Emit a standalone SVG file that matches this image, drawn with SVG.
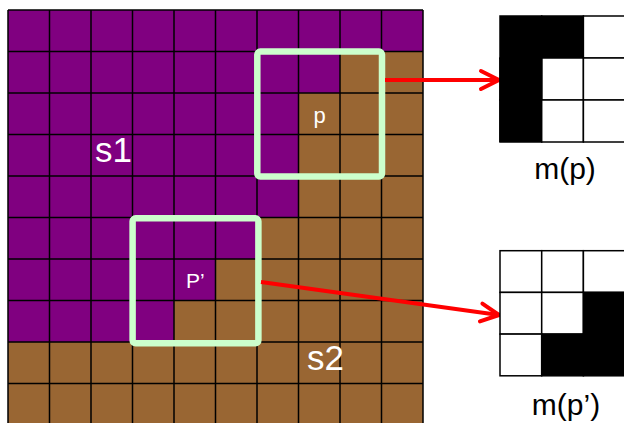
<svg xmlns="http://www.w3.org/2000/svg" width="624" height="423" viewBox="0 0 624 423">
  <defs>
    <style>
      .lbl { font-family: "Liberation Sans", Arial, sans-serif; fill: #ffffff; }
      .cap { font-family: "Liberation Sans", Arial, sans-serif; fill: #000000; font-size: 30px; text-anchor: middle; }
      .grid { fill: none; stroke: #000000; stroke-width: 1.5; }
      .win { fill: none; stroke: #CCFFCC; stroke-width: 6.5; }
      .conn { fill: none; stroke: #FF0000; stroke-width: 4; }
      .cell { stroke: #000000; stroke-width: 1.5; }
    </style>
    <marker id="chev" markerUnits="userSpaceOnUse" viewBox="-22 -12 26 24" refX="0" refY="0" markerWidth="26" markerHeight="24" orient="auto">
      <path d="M-18,-9 L0,0 L-18,9" fill="none" stroke="#FF0000" stroke-width="4" stroke-linecap="round" stroke-linejoin="round"/>
    </marker>
  </defs>
  <rect width="624" height="423" fill="#ffffff"/>

  <g id="image-grid">
    <rect x="8" y="10" width="415" height="415" fill="#996633"/>
    <polygon points="8,10 423,10 423,51.5 340,51.5 340,93 298.5,93 298.5,217.5 257,217.5 257,259 215.5,259 215.5,300.5 174,300.5 174,342 8,342" fill="#800080"/>
    <path class="grid" d="M8,10V425M49.5,10V425M91,10V425M132.5,10V425M174,10V425M215.5,10V425M257,10V425M298.5,10V425M340,10V425M381.5,10V425M423,10V425M8,10H423M8,51.5H423M8,93H423M8,134.5H423M8,176H423M8,217.5H423M8,259H423M8,300.5H423M8,342H423M8,383.5H423"/>
    <text class="lbl" x="95" y="162" font-size="35">s1</text>
    <text class="lbl" x="307" y="370" font-size="35">s2</text>
  </g>

  <g id="window-p">
    <rect class="win" x="257.3" y="51.6" width="124.7" height="125" rx="3"/>
    <text class="lbl" x="319.5" y="122.5" font-size="22" text-anchor="middle">p</text>
  </g>

  <g id="window-p2">
    <rect class="win" x="132.6" y="218.3" width="125.8" height="125" rx="3"/>
    <text class="lbl" x="186" y="287.5" font-size="21">P’</text>
  </g>

  <g id="connectors">
    <line class="conn" x1="385" y1="80" x2="499" y2="80" marker-end="url(#chev)"/>
    <line class="conn" x1="261" y1="282" x2="499" y2="315" marker-end="url(#chev)"/>
  </g>

  <g id="mask-p">
    <rect class="cell" x="500" y="16" width="41.7" height="42" fill="#000000"/>
    <rect class="cell" x="541.7" y="16" width="41.7" height="42" fill="#000000"/>
    <rect class="cell" x="583.4" y="16" width="41.7" height="42" fill="#ffffff"/>
    <rect class="cell" x="500" y="58" width="41.7" height="42" fill="#000000"/>
    <rect class="cell" x="541.7" y="58" width="41.7" height="42" fill="#ffffff"/>
    <rect class="cell" x="583.4" y="58" width="41.7" height="42" fill="#ffffff"/>
    <rect class="cell" x="500" y="100" width="41.7" height="42" fill="#000000"/>
    <rect class="cell" x="541.7" y="100" width="41.7" height="42" fill="#ffffff"/>
    <rect class="cell" x="583.4" y="100" width="41.7" height="42" fill="#ffffff"/>
    <path d="M500,58V142M541.7,58V100" stroke="#000000" stroke-width="1.5" fill="none"/>
    <text class="cap" x="565" y="179">m(p)</text>
  </g>

  <g id="mask-p2">
    <rect class="cell" x="500" y="250.7" width="41.7" height="41.7" fill="#ffffff"/>
    <rect class="cell" x="541.7" y="250.7" width="41.7" height="41.7" fill="#ffffff"/>
    <rect class="cell" x="583.4" y="250.7" width="41.7" height="41.7" fill="#ffffff"/>
    <rect class="cell" x="500" y="292.4" width="41.7" height="41.7" fill="#ffffff"/>
    <rect class="cell" x="541.7" y="292.4" width="41.7" height="41.7" fill="#ffffff"/>
    <rect class="cell" x="583.4" y="292.4" width="41.7" height="41.7" fill="#000000"/>
    <rect class="cell" x="500" y="334.1" width="41.7" height="41.7" fill="#ffffff"/>
    <rect class="cell" x="541.7" y="334.1" width="41.7" height="41.7" fill="#000000"/>
    <rect class="cell" x="583.4" y="334.1" width="41.7" height="41.7" fill="#000000"/>
    <text class="cap" x="566" y="415">m(p’)</text>
  </g>
</svg>
